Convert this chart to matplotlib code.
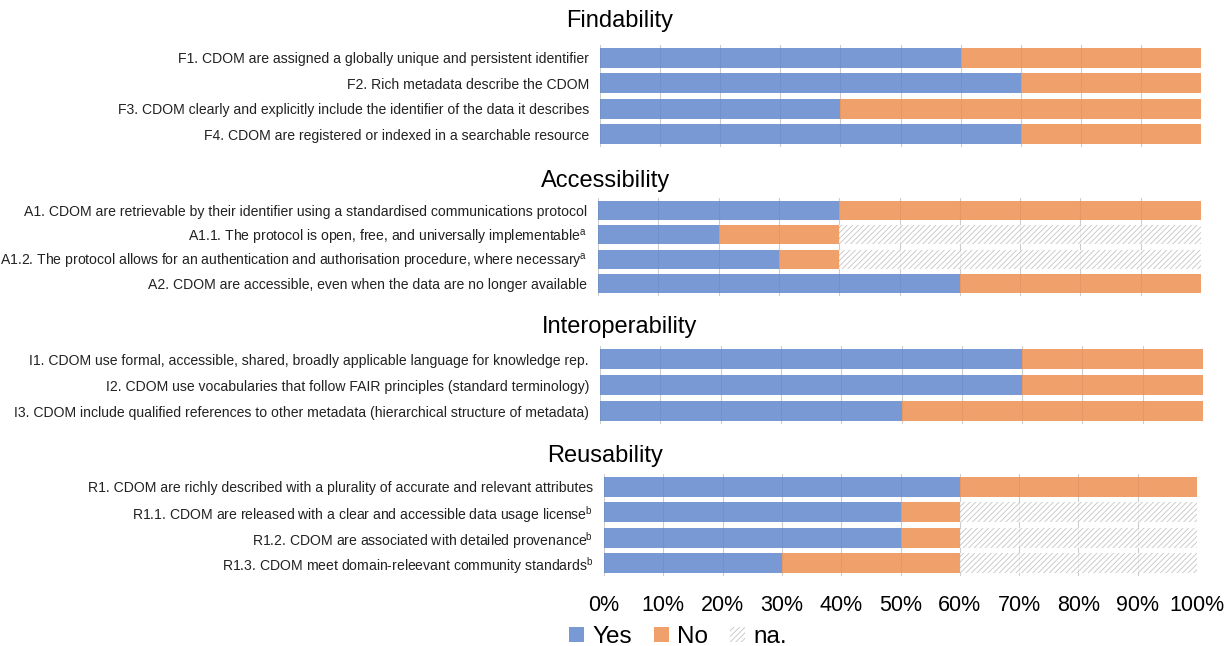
import matplotlib
matplotlib.use("Agg")
import matplotlib.pyplot as plt
from matplotlib.patches import Patch

# ========== Data ==========
find_labels = [
    "F1. CDOM are assigned a globally unique and persistent identifier",
    "F2. Rich metadata describe the CDOM",
    "F3. CDOM clearly and explicitly include the identifier of the data it describes",
    "F4. CDOM are registered or indexed in a searchable resource",
]
find_yes = [60, 70, 40, 70]
find_no = [40, 30, 60, 30]
find_na = [0, 0, 0, 0]

acc_labels = [
    "A1. CDOM are retrievable by their identifier using a standardised communications protocol",
    "A1.1. The protocol is open, free, and universally implementable$^{\\mathrm{a}}$",
    "A1.2. The protocol allows for an authentication and authorisation procedure, where necessary$^{\\mathrm{a}}$",
    "A2. CDOM are accessible, even when the data are no longer available",
]
acc_yes = [40, 20, 30, 60]
acc_no = [60, 20, 10, 40]
acc_na = [0, 60, 60, 0]

int_labels = [
    "I1. CDOM use formal, accessible, shared, broadly applicable language for knowledge rep.",
    "I2. CDOM use vocabularies that follow FAIR principles (standard terminology)",
    "I3. CDOM include qualified references to other metadata (hierarchical structure of metadata)",
]
int_yes = [70, 70, 50]
int_no = [30, 30, 50]
int_na = [0, 0, 0]

reu_labels = [
    "R1. CDOM are richly described with a plurality of accurate and relevant attributes",
    "R1.1. CDOM are released with a clear and accessible data usage license$^{\\mathrm{b}}$",
    "R1.2. CDOM are associated with detailed provenance$^{\\mathrm{b}}$",
    "R1.3. CDOM meet domain-releevant community standards$^{\\mathrm{b}}$",
]
reu_yes = [60, 50, 50, 30]
reu_no = [40, 10, 10, 30]
reu_na = [0, 40, 40, 40]

x_ticks = [0, 10, 20, 30, 40, 50, 60, 70, 80, 90, 100]

# ========== Style ==========
plt.rcParams["font.family"] = ["Liberation Sans"]
plt.rcParams["mathtext.fontset"] = "custom"
plt.rcParams["mathtext.rm"] = "Liberation Sans"
plt.rcParams["hatch.linewidth"] = 0.6

BLUE = "#7899D4"
ORANGE = "#F0A16B"
HATCH_COL = "#C4C4C4"
GRID_COL = "#D9D9D9"

W, H = 1226, 646
fig = plt.figure(figsize=(W / 100, H / 100), dpi=100)


def add_panel(title, labels, yes, no, na, left, right, top, bottom, title_x, title_y, show_x=False):
    ax = fig.add_axes([left / W, 1 - bottom / H, (right - left) / W, (bottom - top) / H])
    y = list(range(len(labels)))
    ax.barh(y, yes, height=0.78, color=BLUE, zorder=2)
    ax.barh(y, no, left=yes, height=0.78, color=ORANGE, zorder=2)
    na_left = [a + b for a, b in zip(yes, no)]
    ax.barh(y, na, left=na_left, height=0.78, color="white", edgecolor=HATCH_COL,
            hatch="//////", linewidth=0, zorder=2)
    ax.set_xlim(0, 100)
    ax.set_ylim(len(labels) - 0.5, -0.5)
    ax.set_yticks(y)
    ax.set_yticklabels(labels, fontsize=10.05, color="#222222")
    ax.tick_params(axis="y", length=0, pad=8)
    ax.set_xticks(x_ticks)
    for xv in x_ticks:
        ax.axvline(xv, color=GRID_COL, lw=0.8, zorder=1)
        ax.axvline(xv, color="#000000", lw=0.6, alpha=0.06, zorder=3)
    if show_x:
        ax.set_xticklabels([f"{v}%" for v in x_ticks], fontsize=15.5)
        ax.tick_params(axis="x", length=0, pad=14)
    else:
        ax.tick_params(axis="x", length=0, labelbottom=False)
    for s in ax.spines.values():
        s.set_visible(False)
    fig.text(title_x / W, 1 - title_y / H, title, fontsize=17, ha="center", va="center")
    return ax


add_panel("Findability", find_labels, find_yes, find_no, find_na,
          600, 1201, 45, 147, 620, 21)
add_panel("Accessibility", acc_labels, acc_yes, acc_no, acc_na,
          598, 1201, 198, 296, 606, 181)
add_panel("Interoperability", int_labels, int_yes, int_no, int_na,
          600, 1203, 346, 424, 620, 327)
add_panel("Reusability", reu_labels, reu_yes, reu_no, reu_na,
          604, 1197, 474, 576, 605, 456, show_x=True)

handles = [
    Patch(facecolor=BLUE, label="Yes"),
    Patch(facecolor=ORANGE, label="No"),
    Patch(facecolor="white", edgecolor=HATCH_COL, hatch="//////", linewidth=0, label="na."),
]
fig.legend(handles=handles, loc="center", bbox_to_anchor=(678 / W, 1 - 637 / H),
           ncol=3, frameon=False, fontsize=17.5, handlelength=0.6, handleheight=0.6,
           handletextpad=0.35, columnspacing=0.9)

fig.savefig("out.png", dpi=100, facecolor="white")
